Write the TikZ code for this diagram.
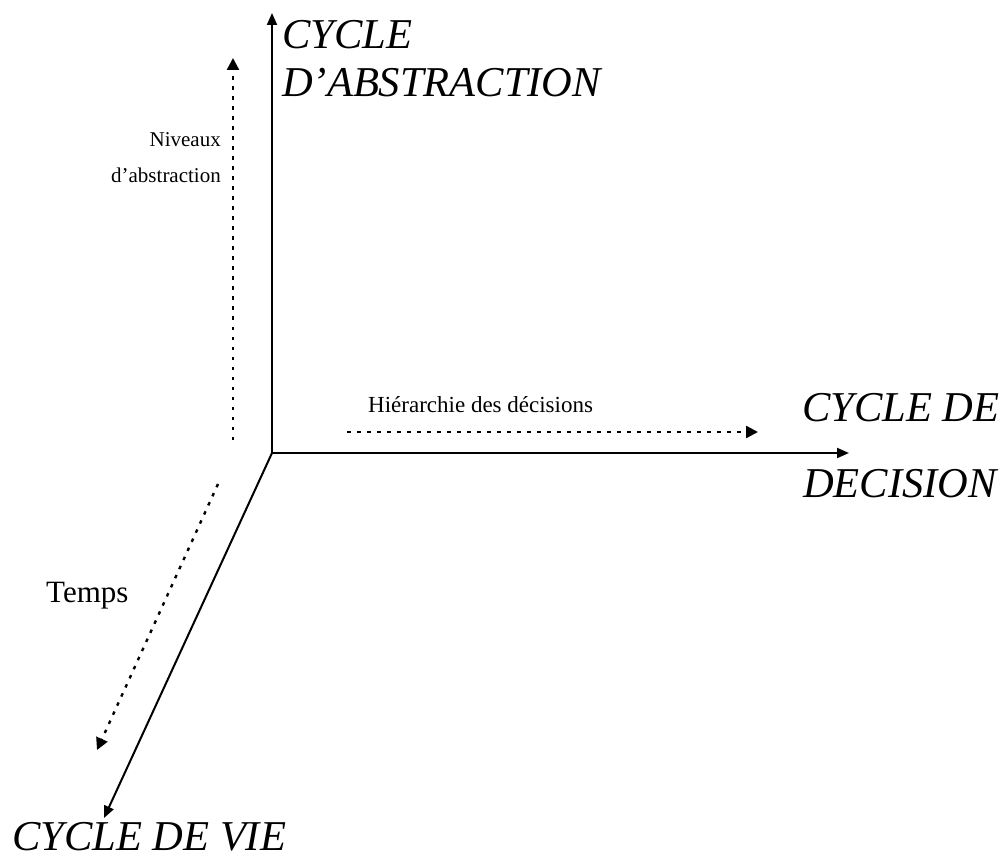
\documentclass[tikz,border=0pt]{standalone}
\usepackage{fontspec}
\setmainfont{Liberation Serif}
\usetikzlibrary{arrows.meta}
\begin{document}
\begin{tikzpicture}[x=1pt,y=-1pt,
  axis/.style={line width=2pt,-{Triangle[length=12pt,width=10pt]}},
  guide/.style={line width=2.4pt,dash pattern=on 3.5pt off 6.5pt,-{Triangle[length=12pt,width=12pt]}},
  big/.style={inner sep=0pt,font=\fontsize{42.5}{50}\selectfont\itshape},
  small/.style={inner sep=0pt,font=\fontsize{21}{26}\selectfont},
  mid/.style={inner sep=0pt,font=\fontsize{23}{28}\selectfont}]
\useasboundingbox (0,0) rectangle (1002,861);
% axes from a common origin
\coordinate (O) at (272,453);
\coordinate (ytip) at (272,13);
\coordinate (xtip) at (849,453);
\coordinate (ztip) at (104,818);
\draw[axis] (O) -- (ytip);
\draw[axis] (O) -- (xtip);
\draw[axis] (O) -- (ztip);
% dotted guide arrows beside each axis
\coordinate (v0) at (233,440);
\coordinate (v1) at (233,58);
\coordinate (h0) at (347,432);
\coordinate (h1) at (758,432);
\coordinate (d0) at (218,484);
\coordinate (d1) at (97,750);
\draw[guide] (v0) -- (v1);
\draw[guide] (h0) -- (h1);
\draw[guide] (d0) -- (d1);
% axis titles
\node[big,anchor=base west] (t1) at (282,49) {CYCLE};
\node[big,anchor=base west] (t2) at (282,97) {D’ABSTRACTION};
\node[big,anchor=base west] (t3) at (802,421) {CYCLE DE};
\node[big,anchor=base west] (t4) at (803,497) {DECISION};
\node[big,anchor=base west] (t5) at (12,850) {CYCLE DE VIE};
% guide labels
\node[small,anchor=base east] (n1) at (221,147) {Niveaux};
\node[small,anchor=base east] (n2) at (221,183) {d’abstraction};
\node[mid,anchor=base west] (hd) at (368,412) {Hiérarchie des décisions};
\node[inner sep=0pt,font=\fontsize{31}{36}\selectfont,anchor=base west] (tp) at (46,602) {Temps};
\end{tikzpicture}
\end{document}
